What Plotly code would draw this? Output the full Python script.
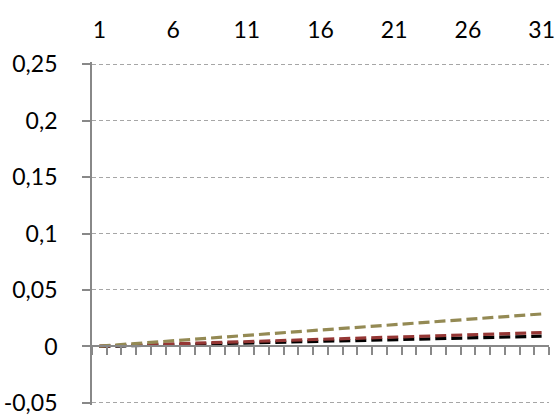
import plotly.graph_objects as go

x = list(range(1, 32))
olive = [0.0003, 0.0013, 0.0022, 0.0032, 0.0041, 0.0051, 0.0060, 0.0070, 0.0079, 0.0089,
         0.0098, 0.0108, 0.0117, 0.0127, 0.0136, 0.0146, 0.0155, 0.0165, 0.0174, 0.0184,
         0.0193, 0.0203, 0.0212, 0.0222, 0.0231, 0.0241, 0.0250, 0.0260, 0.0269, 0.0279, 0.0288]
red = [0.0003, 0.0007, 0.0011, 0.0015, 0.0019, 0.0023, 0.0027, 0.0031, 0.0035, 0.0039,
       0.0043, 0.0047, 0.0051, 0.0055, 0.0059, 0.0063, 0.0067, 0.0071, 0.0075, 0.0079,
       0.0083, 0.0087, 0.0091, 0.0095, 0.0099, 0.0103, 0.0107, 0.0111, 0.0115, 0.0119, 0.0123]
black = [0.0000, 0.0003, 0.0006, 0.0009, 0.0012, 0.0015, 0.0018, 0.0021, 0.0024, 0.0027,
         0.0030, 0.0033, 0.0036, 0.0039, 0.0042, 0.0045, 0.0048, 0.0051, 0.0054, 0.0057,
         0.0060, 0.0063, 0.0066, 0.0069, 0.0072, 0.0075, 0.0078, 0.0081, 0.0084, 0.0087, 0.0091]
xtick_vals = [1, 6, 11, 16, 21, 26, 31]
ytick_vals = [-0.05, 0, 0.05, 0.1, 0.15, 0.2, 0.25]
ytick_text = ["-0,05", "0", "0,05", "0,1", "0,15", "0,2", "0,25"]

FONT = "Lato, 'Open Sans', sans-serif"
FS = 23
fig = go.Figure()
for vals, col in [(black, "#000000"), (red, "#953735"), (olive, "#948A54")]:
    fig.add_trace(go.Scatter(x=x, y=vals, mode="lines",
                             line=dict(color=col, width=3.2, dash="11px,5px"),
                             showlegend=False, xaxis="x", yaxis="y"))

# boundary tick axis at y=0
fig.add_trace(go.Scatter(x=[1], y=[0], mode="markers", marker=dict(opacity=0),
                         showlegend=False, hoverinfo="skip", xaxis="x2", yaxis="y"))

YR = [-0.0518, 0.2518]
fig.update_layout(
    width=558, height=419,
    margin=dict(l=92, r=9, t=62, b=14),
    paper_bgcolor="white", plot_bgcolor="white",
    separators=", ",
    font=dict(family=FONT, size=FS, color="#000000"),
    xaxis=dict(range=[0.5, 31.5], side="top", tickmode="array", tickvals=xtick_vals,
               showgrid=False, showline=False, zeroline=False, ticks="",
               ticklabelstandoff=18, tickfont=dict(size=FS), automargin=False),
    xaxis2=dict(range=[0.5, 31.5], overlaying="x", anchor="free",
                position=(0 - YR[0]) / (YR[1] - YR[0]),
                tickmode="array", tickvals=[i + 0.5 for i in range(0, 32)],
                showticklabels=False, ticks="outside", ticklen=8, tickwidth=1.5,
                tickcolor="#888888", showline=True, linecolor="#888888", linewidth=1.8,
                showgrid=False, zeroline=False, automargin=False),
    yaxis=dict(range=YR, tickmode="array", tickvals=ytick_vals, ticktext=ytick_text,
               showgrid=True, gridcolor="#A6A6A6", griddash="4px,3px", gridwidth=1,
               showline=True, linecolor="#888888", linewidth=1.8,
               ticks="outside", ticklen=8, tickwidth=1.5, tickcolor="#888888",
               ticklabelstandoff=20, zeroline=False, tickfont=dict(size=FS),
               automargin=False),
)
fig.write_html("out.html", config={"displayModeBar": False},
               post_script="document.body.style.margin='0';")
